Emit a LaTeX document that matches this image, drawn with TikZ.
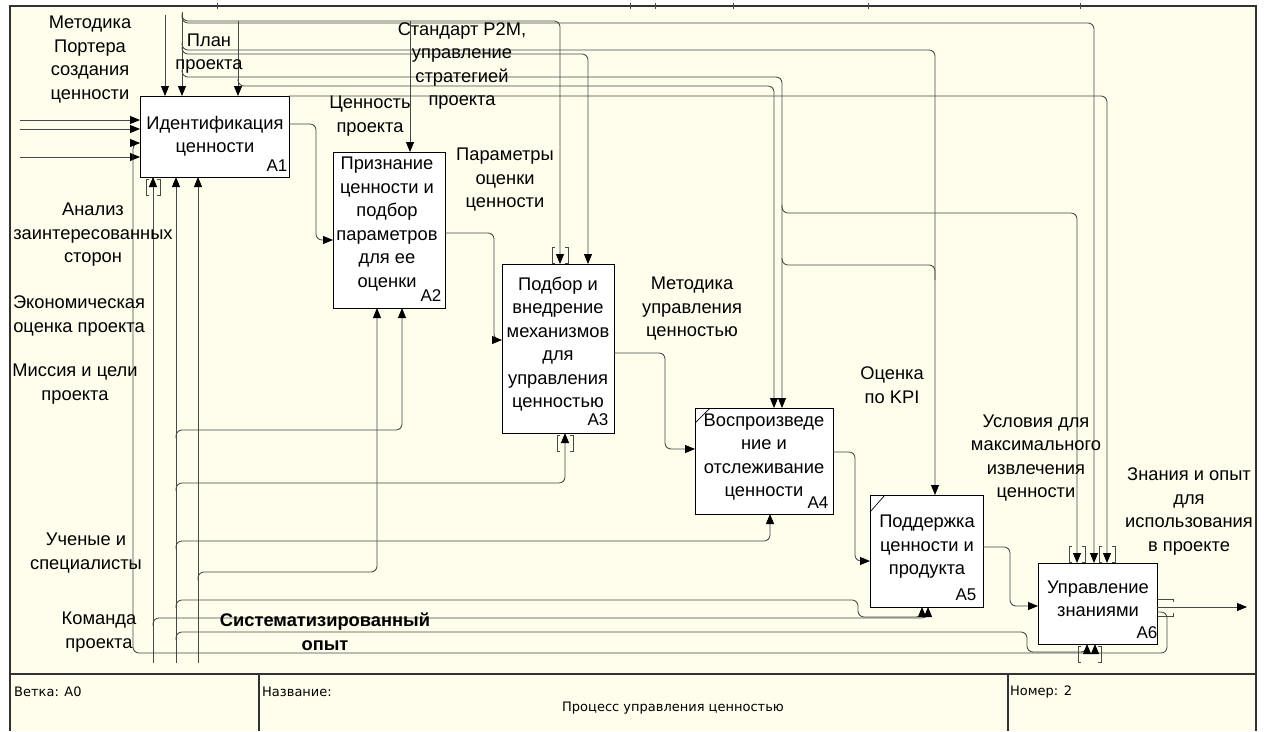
\documentclass[tikz,border=0pt]{standalone}
\usepackage{fontspec}
\setmainfont{Liberation Sans}
\newfontfamily\footfont{DejaVu Sans}
\usetikzlibrary{arrows.meta}
\definecolor{paper}{RGB}{255,253,236}
\definecolor{wirec}{RGB}{72,72,72}
\definecolor{sheetc}{RGB}{50,50,50}
% a pair of tunnel brackets [ ] around an arrow end
\newcommand{\tunnelpair}[4]{%
  \draw[tunnel] (#1+3,#3) -- (#1,#3) -- (#1,#4) -- (#1+3,#4);
  \draw[tunnel] (#2-3,#3) -- (#2,#3) -- (#2,#4) -- (#2-3,#4);}
\begin{document}
\begin{tikzpicture}[x=1pt,y=-1pt,
  wire/.style={draw=wirec, line width=0.85pt, rounded corners=6pt},
  arrowed/.style={-{Triangle[length=10pt,width=8pt,color=black]}},
  fnbox/.style={draw=black, line width=1pt, fill=white, anchor=north west, inner sep=0pt, outer sep=0pt},
  lbl/.style={font=\fontsize{18.3}{23.5}\selectfont, align=center, inner sep=0pt},
  boxnum/.style={font=\fontsize{17}{20}\selectfont, inner sep=0pt},
  foot/.style={font=\footfont\fontsize{13}{15}\selectfont, inner sep=0pt},
  tunnel/.style={draw=wirec, line width=0.6pt},
  sheetline/.style={draw=sheetc, line width=1.2pt}]
\useasboundingbox (0,0) rectangle (1266,731);
\fill[white] (0,0) rectangle (1266,731);
\fill[paper] (10,6) rectangle (1256,731);

% sheet frame and title block
\draw[sheetline] (10,731) -- (10,6) -- (1256,6) -- (1256,731);
\draw[sheetline] (10,674) -- (1256,674);
\draw[sheetline] (259,674) -- (259,731);
\draw[sheetline] (1008,674) -- (1008,731);
\foreach \t in {217,630,655,733,868,1080} \draw[wirec, line width=0.6pt] (\t,3) -- (\t,9);
\node[foot, anchor=west] (branch) at (14,692) {Ветка: A0};
\node[foot, anchor=west] (title) at (262,692) {Название:};
\node[foot] (titletext) at (673,708) {Процесс управления ценностью};
\node[foot, anchor=west] (number) at (1010,692) {Номер: 2};

% function boxes
\node[fnbox, minimum width=149pt, minimum height=81pt]  (A1) at (140,96)  {};
\node[fnbox, minimum width=112pt, minimum height=156pt] (A2) at (333,152) {};
\node[fnbox, minimum width=112pt, minimum height=169pt] (A3) at (502,264) {};
\node[fnbox, minimum width=138pt, minimum height=106pt] (A4) at (695,408) {};
\node[fnbox, minimum width=113pt, minimum height=112pt] (A5) at (870,495) {};
\node[fnbox, minimum width=119pt, minimum height=81pt]  (A6) at (1038,563) {};
\draw[black, line width=0.7pt] ([yshift=-15pt]A4.north west) -- ([xshift=15pt]A4.north west);
\draw[black, line width=0.7pt] ([yshift=-17pt]A5.north west) -- ([xshift=15pt]A5.north west);

% free ends
\coordinate (srcA) at (165,15);
\coordinate (srcB) at (182,12);
\coordinate (in1) at (20,120);
\coordinate (in2) at (20,129);
\coordinate (in4) at (20,157);
\coordinate (m153) at (153,663);
\coordinate (m176) at (176,663);
\coordinate (m198) at (198,663);
\coordinate (out) at (1247,607);

% controls
\draw[wire,arrowed] (srcA) -- ([xshift=25pt]A1.north west);
\draw[wire,arrowed] (srcB) -- ([xshift=42pt]A1.north west);
\draw[wire,arrowed] (182,14) |- (560,21) -- ([xshift=58pt]A3.north west);
\draw[wire,arrowed] (238,21) -- ([xshift=98pt]A1.north west);
\draw[wire,arrowed] (410,21) -- ([xshift=77pt]A2.north west);
\draw[wire,arrowed] (182,16) |- (1094,23) -- ([xshift=56pt]A6.north west);
\draw[wire,arrowed] (182,43) |- (935,50) -- ([xshift=65pt]A5.north west);
\draw[wire,arrowed] (182,47) |- (588,54) -- ([xshift=86pt]A3.north west);
\draw[wire,arrowed] (182,70) |- (782,77) -- ([xshift=87pt]A4.north west);
\draw[wire,arrowed] (238,79) |- (774,86) -- ([xshift=79pt]A4.north west);
\draw[wire,arrowed] (A1.north east) -- (1107,96) -- ([xshift=69pt]A6.north west);
\draw[wire,arrowed] (782,205) |- (1077,213) -- ([xshift=39pt]A6.north west);
\draw[wire] (782,258) |- (935,265) -- (935,280);

% inputs
\draw[wire,arrowed] (in1) -- ([yshift=-24pt]A1.north west);
\draw[wire,arrowed] (in2) -- ([yshift=-33pt]A1.north west);
\draw[wire,arrowed] (in4) -- ([yshift=-61pt]A1.north west);
\draw[wire,arrowed] ([yshift=-49pt]A6.north east) -- (1167,612) -- (1167,653) -- (133,653) -- (133,143) -- ([yshift=-47pt]A1.north west);

% outputs between functions
\draw[wire,arrowed] ([yshift=-28pt]A1.north east) -| (316,240) -- ([yshift=-88pt]A2.north west);
\draw[wire,arrowed] ([yshift=-81pt]A2.north east) -| (494,340) -- ([yshift=-76pt]A3.north west);
\draw[wire,arrowed] ([yshift=-89pt]A3.north east) -| (665,449) -- ([yshift=-41pt]A4.north west);
\draw[wire,arrowed] ([yshift=-44pt]A4.north east) -| (855,561) -- ([yshift=-66pt]A5.north west);
\draw[wire,arrowed] ([yshift=-52pt]A5.north east) -| (1010,606) -- ([yshift=-43pt]A6.north west);
\draw[wire,arrowed] ([yshift=-44pt]A6.north east) -- (out);

% mechanisms
\draw[wire,arrowed] (m153) -- ([xshift=13pt]A1.south west);
\draw[wire,arrowed] (153,626) |- (928,618) -- ([xshift=58pt]A5.south west);
\draw[wire,arrowed] (1095,653) -- ([xshift=57pt]A6.south west);
\draw[wire,arrowed] (m176) -- ([xshift=36pt]A1.south west);
\draw[wire,arrowed] (176,438) |- (402,430) -- ([xshift=69pt]A2.south west);
\draw[wire,arrowed] (176,491) |- (565,483) -- ([xshift=63pt]A3.south west);
\draw[wire,arrowed] (176,549) |- (770,541) -- ([xshift=75pt]A4.south west);
\draw[wire,arrowed] (176,608) |- (858,600) |- (922,617) -- ([xshift=52pt]A5.south west);
\draw[wire,arrowed] (176,640) |- (1027,632) |- (1087,652) -- ([xshift=49pt]A6.south west);
\draw[wire,arrowed] (m198) -- ([xshift=58pt]A1.south west);
\draw[wire,arrowed] (198,580) |- (377,572) -- ([xshift=44pt]A2.south west);

% tunnel marks
\tunnelpair{146}{160}{179}{195}
\tunnelpair{552}{568}{247}{263}
\tunnelpair{557}{573}{435}{451}
\tunnelpair{1069}{1085}{546}{562}
\tunnelpair{1099}{1115}{546}{562}
\tunnelpair{1078}{1101}{646}{662}
\draw[tunnel] (1158,599) -- (1173,599) -- (1173,602);
\draw[tunnel] (1158,616) -- (1173,616) -- (1173,613);

% box texts
\node[lbl] (A1t) at (215,136) {Идентификация\\ценности};
\node[boxnum] (A1n) at (277,166) {A1};
\node[lbl] (A2t) at (387,224) {Признание\\ценности и\\подбор\\параметров\\для ее\\оценки};
\node[boxnum] (A2n) at (431,296) {A2};
\node[lbl] (A3t) at (558,344) {Подбор и\\внедрение\\механизмов\\для\\управления\\ценностью};
\node[boxnum] (A3n) at (598,420) {A3};
\node[lbl] (A4t) at (764,457) {Воспроизведе\\ние и\\отслеживание\\ценности};
\node[boxnum] (A4n) at (818,503) {A4};
\node[lbl] (A5t) at (927,547) {Поддержка\\ценности и\\продукта};
\node[boxnum] (A5n) at (966,595) {A5};
\node[lbl] (A6t) at (1098,599) {Управление\\знаниями};
\node[boxnum] (A6n) at (1147,633) {A6};

% arrow labels
\node[lbl] (l1) at (90,59.5) {Методика\\Портера\\создания\\ценности};
\node[lbl] (l2) at (209,53.5) {План\\проекта};
\node[lbl] (l3) at (462,66) {Стандарт P2M,\\управление\\стратегией\\проекта};
\node[lbl] (l4) at (370,116) {Ценность\\проекта};
\node[lbl] (l5) at (505,180) {Параметры\\оценки\\ценности};
\node[lbl] (l6) at (93,235) {Анализ\\заинтересованных\\сторон};
\node[lbl] (l7) at (79,316) {Экономическая\\оценка проекта};
\node[lbl] (l8) at (75,384) {Миссия и цели\\проекта};
\node[lbl] (l9) at (86,553) {Ученые и\\специалисты};
\node[lbl] (l10) at (99,632) {Команда\\проекта};
\node[lbl, font=\bfseries\fontsize{18.3}{23.5}\selectfont] (l11) at (325,632) {Систематизированный\\опыт};
\node[lbl] (l12) at (692,309) {Методика\\управления\\ценностью};
\node[lbl] (l13) at (892,385) {Оценка\\по KPI};
\node[lbl] (l14) at (1036,458) {Условия для\\максимального\\извлечения\\ценности};
\node[lbl] (l15) at (1189,511.5) {Знания и опыт\\для\\использования\\в проекте};
\end{tikzpicture}
\end{document}
